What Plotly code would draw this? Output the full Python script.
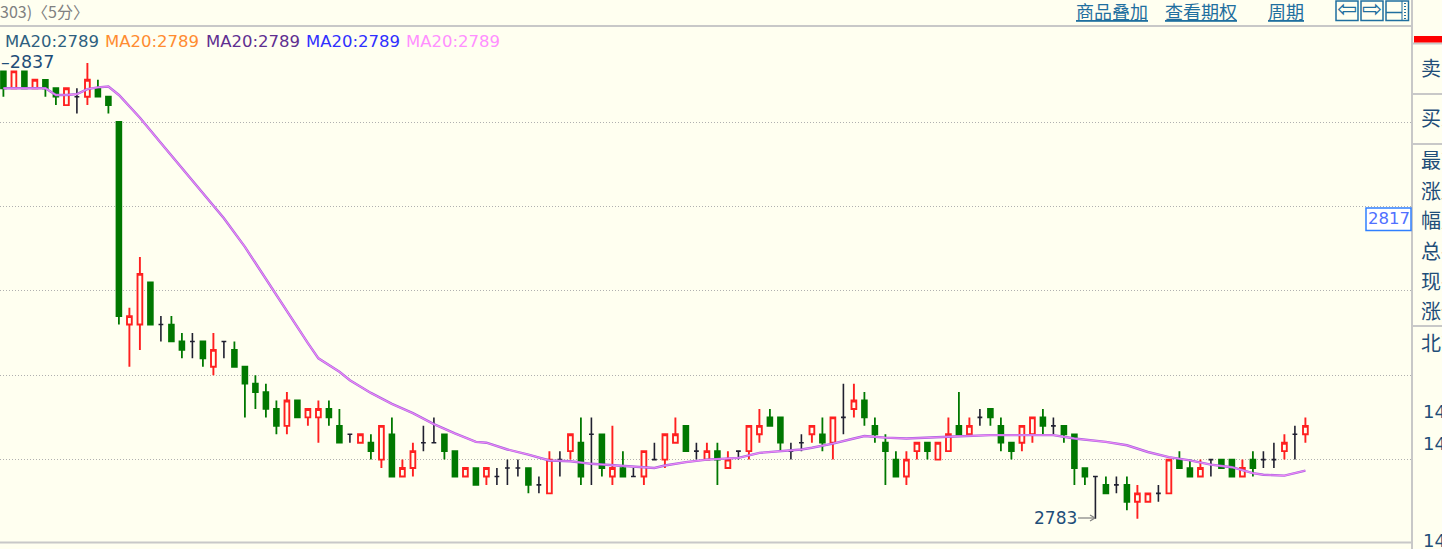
import plotly.graph_objects as go

opens = [2836,2834,2836,2834,2835,2834,2832,2833,2833,2834,
         2833,2830,2806,2806,2811,2806,2806,2804,2804,2804,
         2801,2804,2803,2801,2799,2798,2796,2794,2797,2795,
         2795,2796,2794,2793,2792,2792,2790,2793,2788,2789,
         2792,2792,2793,2791,2788,2789,2788,2788,2789,2789,
         2789,2787,2786,2790,2791,2792,2793,2793,2788,2789,
         2788,2788,2790,2790,2792,2794,2791,2790,2791,2789,
         2791,2791,2793,2795,2795,2791,2792,2793,2793,2792,
         2795,2796,2797,2794,2792,2790,2788,2791,2792,2790,
         2791,2794,2793,2795,2796,2794,2792,2792,2793,2795,
         2794,2794,2793,2789,2788,2787,2787,2787,2785,2785,
         2786,2786,2790,2789,2788,2790,2790,2790,2788,2790,
         2790,2790,2791,2793,2793]
closes = [2834,2836,2834,2835,2834,2833,2834,2833,2835,2833,
          2832,2807,2807,2812,2806,2806,2804,2803,2804,2802,
          2803,2804,2801,2799,2798,2796,2794,2797,2795,2796,
          2796,2795,2792,2793,2793,2791,2794,2788,2789,2791,
          2792,2792,2791,2788,2789,2787,2789,2788,2789,2789,
          2787,2787,2790,2790,2793,2788,2793,2789,2789,2788,
          2788,2791,2790,2793,2793,2791,2791,2791,2790,2790,
          2791,2794,2794,2794,2792,2791,2792,2794,2792,2795,
          2795,2797,2795,2793,2791,2788,2790,2792,2791,2792,
          2793,2793,2794,2795,2795,2792,2791,2794,2795,2794,
          2794,2793,2789,2788,2788,2786,2787,2785,2786,2786,
          2786,2790,2789,2788,2789,2790,2789,2788,2789,2789,
          2790,2790,2792,2793,2794]
highs = [2836,2836,2836,2835,2835,2834,2834,2834,2837,2835,
         2833,2830,2808,2814,2811,2807,2807,2805,2805,2804,
         2805,2804,2804,2801,2800,2799,2797,2798,2797,2796,
         2797,2797,2796,2793,2793,2793,2794,2795,2790,2792,
         2794,2795,2793,2791,2789,2789,2789,2789,2790,2790,
         2789,2788,2791,2791,2793,2795,2795,2793,2794,2791,
         2789,2791,2792,2793,2795,2794,2792,2792,2792,2791,
         2791,2794,2796,2796,2795,2792,2793,2794,2795,2795,
         2799,2799,2798,2795,2793,2791,2791,2792,2792,2792,
         2795,2798,2795,2796,2796,2795,2792,2794,2795,2796,
         2795,2794,2793,2789,2788,2788,2788,2788,2787,2786,
         2787,2790,2791,2790,2790,2790,2790,2790,2790,2791,
         2791,2792,2793,2794,2795]
lows = [2833,2834,2834,2834,2833,2832,2832,2831,2832,2833,
        2831,2806,2801,2803,2806,2804,2804,2802,2802,2801,
        2800,2802,2801,2795,2796,2795,2793,2793,2795,2794,
        2792,2794,2792,2792,2792,2790,2789,2788,2788,2788,
        2791,2792,2790,2788,2788,2787,2787,2787,2787,2788,
        2786,2786,2786,2788,2790,2787,2787,2788,2787,2788,
        2788,2787,2790,2789,2792,2791,2790,2790,2787,2789,
        2790,2790,2792,2794,2791,2790,2791,2792,2791,2790,
        2793,2795,2794,2792,2787,2788,2787,2790,2790,2790,
        2791,2793,2793,2794,2794,2791,2790,2791,2792,2793,
        2793,2792,2787,2787,2783,2786,2786,2784,2783,2785,
        2785,2786,2789,2788,2788,2788,2789,2788,2788,2788,
        2789,2789,2790,2790,2792]

ma_index = [0,4,5,6,7,8,9,10,11,12,13,15,17,19,21,23,24,25,27,29,30,31,32,33,35,37,39,41,43,45,46,48,
            50,52,54,56,60,62,63,65,67,70,72,74,76,77,79,81,82,84,86,90,94,97,100,102,105,107,109,
            111,113,115,117,119,120,122,123,124]
ma20 = [2834.0,2834.0,2833.2,2833.2,2833.3,2833.9,2834.1,2834.2,2833.2,2831.8,2830.5,2827.5,2824.5,
        2821.5,2818.6,2815.2,2813.3,2811.3,2807.6,2803.8,2802.0,2801.2,2800.4,2799.4,2797.9,2796.6,2795.5,
        2794.2,2793.1,2792.1,2792.0,2791.2,2790.6,2789.9,2789.8,2789.5,2789.2,2789.0,2789.3,2789.7,
        2790.0,2790.2,2790.8,2791.0,2791.2,2791.4,2791.9,2792.5,2792.8,2792.6,2792.5,2792.7,2792.9,
        2792.9,2792.9,2792.5,2792.1,2791.7,2790.9,2790.3,2789.9,2789.4,2789.1,2788.4,2788.2,2788.1,
        2788.4,2788.7]

legend_labels = ["MA20:2789"] * 5
legend_colors = ["#2F5F80", "#FF8C30", "#5F2F90", "#3030FF", "#FF90FF"]
legend_x = [4.5, 105, 205.5, 306, 406]
grid_values = [2790, 2800, 2810, 2820, 2830]

W, H = 1442, 549
BG = "#FFFFF0"
GREY = "#C8C8C8"
TXT = "#1F4E79"
LINK = "#1F6F9F"
CJK = "Noto Sans CJK SC"
LAT = "DejaVu Sans"

def px(x):
    return x / W

def py(y):
    return 1 - y / H

idx = list(range(len(opens)))

def pick(test):
    s = [i for i in idx if test(opens[i], closes[i])]
    return dict(x=s, open=[opens[i] for i in s], high=[highs[i] for i in s],
                low=[lows[i] for i in s], close=[closes[i] for i in s])

def candle(sel, line, fill, lw=1.5):
    style = dict(line=dict(color=line, width=lw), fillcolor=fill)
    return go.Candlestick(**sel, increasing=style, decreasing=style, showlegend=False,
                          hoverinfo="skip", whiskerwidth=0)

fig = go.Figure()
fig.add_trace(candle(pick(lambda o, c: c < o), "#007800", "#007800", 1.8))
fig.add_trace(candle(pick(lambda o, c: c > o), "#FF2020", BG, 1.9))
fig.add_trace(candle(pick(lambda o, c: c == o), "#202030", "#202030", 1.6))
fig.add_trace(go.Scatter(x=ma_index, y=ma20, mode="lines", line=dict(color="#A864E0", width=2.4),
                         showlegend=False, hoverinfo="skip"))
fig.add_trace(go.Scatter(x=ma_index, y=ma20, mode="lines", line=dict(color="#F088F4", width=1.1),
                         showlegend=False, hoverinfo="skip"))

def text(x, y, s, color=TXT, size=16.5, family=LAT, anchor="left"):
    fig.add_annotation(x=px(x), y=py(y), xref="paper", yref="paper", text=s, showarrow=False,
                       xanchor=anchor, yanchor="middle", borderpad=0, borderwidth=0,
                       font=dict(color=color, size=size, family=family))

def line(x0, y0, x1, y1, color=GREY, width=2, dash=None):
    fig.add_shape(type="line", xref="paper", yref="paper", x0=px(x0), y0=py(y0), x1=px(x1), y1=py(y1),
                  line=dict(color=color, width=width, dash=dash), layer="above")

def box(x0, y0, x1, y1, color, fill=None, width=1.5):
    fig.add_shape(type="rect", xref="paper", yref="paper", x0=px(x0), y0=py(y0), x1=px(x1), y1=py(y1),
                  line=dict(color=color, width=width), fillcolor=fill, layer="above")

# frame
line(0, 26, 1412, 26)
line(0, 542.5, 1412, 542.5)
line(1412, 0, 1412, 549)
line(1413, 43.5, 1442, 43.5)
line(1413, 94, 1442, 94)
line(1413, 144, 1442, 144)
line(1413, 326, 1442, 326)
fig.add_shape(type="rect", xref="paper", yref="paper", x0=px(1414), x1=px(1442), y0=py(36), y1=py(42.5),
              fillcolor="#FF0000", line=dict(width=0), layer="above")

# header
text(0, 11, "303)〈5分〉", color="#808080", size=16, family=CJK)
text(1076, 11, "<u>商品叠加</u>", color=LINK, size=18, family=CJK)
text(1165, 11, "<u>查看期权</u>", color=LINK, size=18, family=CJK)
text(1268, 11, "<u>周期</u>", color=LINK, size=18, family=CJK)
box(1336, 1, 1358, 20.5, LINK)
box(1361, 1, 1383, 20.5, LINK)
box(1386, 1, 1408.5, 20.5, LINK)
line(1386, 12.5, 1402, 12.5, LINK, 1.5)
line(1402, 1, 1402, 20.5, LINK, 1)
line(1405, 3, 1405, 19, LINK, 2, "1px,2px")
text(1347, 9.5, "⇦", color=LINK, size=24, family=LAT, anchor="center")
text(1372, 9.5, "⇨", color=LINK, size=24, family=LAT, anchor="center")

# MA legend
for lx, lab, col in zip(legend_x, legend_labels, legend_colors):
    text(lx, 41, lab, color=col)

# extreme labels
text(1, 62, "–2837", size=17.5)
text(1034, 518, "2783", size=17)
line(1078, 518, 1094, 518, "#808080", 1.2)
line(1090, 515, 1095, 518, "#808080", 1.2)
line(1090, 521, 1095, 518, "#808080", 1.2)

# price cursor
box(1366, 208, 1411, 230.5, "#3080FF", "#FFFFFF")
text(1388.5, 218.5, "2817", color="#5070FF", anchor="center")

# side panel
side = [(68, "卖出"), (118, "买入"), (160, "最高"), (191, "涨跌"), (221, "幅度"),
        (251, "总手"), (281, "现手"), (311, "涨停"), (343, "北京")]
for y, s in side:
    text(1421, y - 1, s, size=20, family=CJK)
for y, s in [(411, "1428"), (443, "1429"), (540, "1430")]:
    text(1422.5, y, s, size=18)

fig.update_layout(
    width=W, height=H, autosize=False,
    margin=dict(l=0, r=0, t=0, b=0, pad=0),
    paper_bgcolor=BG, plot_bgcolor=BG, showlegend=False, boxgap=0.35,
    xaxis=dict(domain=[0, 1412 / W], range=[-3.4 / 10.5, (1412 - 3.4) / 10.5],
               rangeslider=dict(visible=False), showgrid=False, zeroline=False,
               showticklabels=False, ticks="", showline=False),
    yaxis=dict(domain=[0, 1], range=[2830 - 427 / 8.44, 2830 + 122 / 8.44],
               tickvals=grid_values, showticklabels=False, ticks="", zeroline=False,
               showline=False, showgrid=True, gridcolor="#B0B0B0", griddash="1px,2px", gridwidth=1),
)

fig.write_html("out.html", config={"displayModeBar": False},
               post_script="document.body.style.margin='0';document.body.style.overflow='hidden';")
